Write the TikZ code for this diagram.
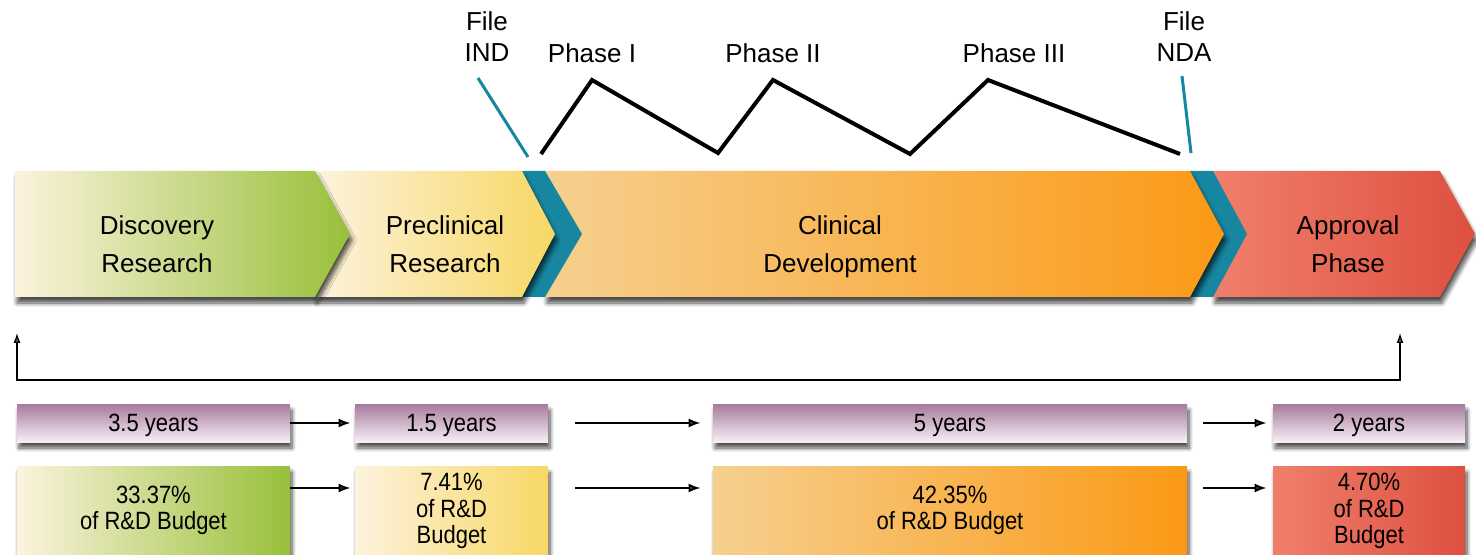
\documentclass[tikz,border=0pt]{standalone}
\usepackage{fontspec}
\setmainfont{Liberation Sans}
\newfontfamily\narrowfont[FakeStretch=0.88]{Liberation Sans}
\usetikzlibrary{shadows.blur,arrows.meta}
\definecolor{tealc}{HTML}{1786A0}
\definecolor{cream}{HTML}{FCF3DD}
\definecolor{greenR}{HTML}{98C03A}
\definecolor{yelR}{HTML}{F8D764}
\definecolor{orL}{HTML}{F6D08F}
\definecolor{orR}{HTML}{FB9915}
\definecolor{redL}{HTML}{F07F6C}
\definecolor{redR}{HTML}{DE5040}
\definecolor{purpT}{HTML}{A67A9E}
\definecolor{purpB}{HTML}{F8EFF6}
\begin{document}
\begin{tikzpicture}[x=0.5pt,y=-0.5pt,
  shad/.style={blur shadow={shadow xshift=1pt,shadow yshift=-3pt,shadow blur steps=8,shadow opacity=70}},
  bannertxt/.style={font=\fontsize{13}{19}\selectfont,align=center,inner sep=0pt},
  toptxt/.style={font=\fontsize{13}{15.5}\selectfont,align=center,inner sep=0pt},
  yrbox/.style={shad,minimum height=19pt,inner sep=0pt,text depth=0pt,top color=purpT,bottom color=purpB,font=\narrowfont\fontsize{12.5}{13}\selectfont},
  bdbox/.style={shad,minimum height=44.5pt,inner sep=0pt,align=center,font=\narrowfont\fontsize{12.5}{13.3}\selectfont},
  arr/.style={line width=1pt,-{Latex[length=6pt,width=4.5pt]}},
  zig/.style={line width=2pt,line join=miter},
  tline/.style={line width=1.5pt,draw=tealc}]
\useasboundingbox (0,0) rectangle (1476,555);
% banner shapes (right to left so tips overlap)
\path[shad,left color=redL,right color=redR] (1213,171) -- (1440,171) -- (1475,234) -- (1440,297) -- (1213,297) -- cycle;
\path[fill=tealc] (1190,171) -- (1213,171) -- (1247,234) -- (1213,297) -- (1190,297) -- cycle;
\path[shad,left color=orL,middle color=orL!85!orR,right color=orR] (545,171) -- (1190,171) -- (1224,234) -- (1190,297) -- (545,297) -- cycle;
\path[fill=tealc] (522,171) -- (545,171) -- (582,234) -- (545,297) -- (522,297) -- cycle;
\path[shad,left color=cream,right color=yelR] (315,171) -- (522,171) -- (555,234) -- (522,297) -- (315,297) -- cycle;
\path[shad,left color=cream,right color=greenR] (15,171) -- (315,171) -- (350,234) -- (315,297) -- (15,297) -- cycle;
% banner labels
\node[bannertxt] (disc) at (157,244) {Discovery\\Research};
\node[bannertxt] (prec) at (445,244) {Preclinical\\Research};
\node[bannertxt] (clin) at (840,247) {Clinical\\Development};
\node[bannertxt] (appr) at (1348,244) {Approval\\Phase};
% top labels
\node[toptxt] (ind) at (487,37) {File\\IND};
\node[toptxt] (p1) at (592,53) {Phase I};
\node[toptxt] (p2) at (773,53) {Phase II};
\node[toptxt] (p3) at (1014,53) {Phase III};
\node[toptxt] (nda) at (1184,37) {File\\NDA};
\draw[tline] (478,78) -- (528,157);
\draw[tline] (1182,76) -- (1191,153);
\draw[zig] (541,154) -- (592,80) -- (718,153) -- (773,80) -- (910,154) -- (988,80) -- (1180,154);
% return arrow
\coordinate (rl) at (17,380);
\coordinate (rr) at (1400,380);
\coordinate (rlt) at (17,333);
\coordinate (rrt) at (1400,333);
\draw[line width=0.6pt,{Latex[length=5pt,width=3.5pt]}-{Latex[length=5pt,width=3.5pt]}] (rlt) -- (rl) -- (rr) -- (rrt);
% years row
\node[yrbox,minimum width=136.5pt] (y1) at (153.5,423) {3.5 years};
\node[yrbox,minimum width=96.5pt] (y2) at (451.5,423) {1.5 years};
\node[yrbox,minimum width=237pt] (y3) at (950,423) {5 years};
\node[yrbox,minimum width=96pt] (y4) at (1369,423) {2 years};
% budget row
\node[bdbox,minimum width=136.5pt,left color=cream,right color=greenR] (b1) at (153.5,510.5) {33.37\%\\of R\&D Budget};
\node[bdbox,minimum width=96.5pt,left color=cream,right color=yelR] (b2) at (451.5,511) {7.41\%\\of R\&D\\Budget};
\node[bdbox,minimum width=237pt,left color=orL,middle color=orL!85!orR,right color=orR] (b3) at (950,510.5) {42.35\%\\of R\&D Budget};
\node[bdbox,minimum width=96pt,left color=redL,right color=redR] (b4) at (1369,511) {4.70\%\\of R\&D\\Budget};
% arrows
\coordinate (m1) at (575,423);
\coordinate (m2) at (575,488);
\draw[arr,shorten >=2pt] (y1.east) -- (y2.west);
\draw[arr,shorten >=6pt] (m1) -- (y3.west);
\draw[arr,shorten >=3pt,shorten <=8pt] (y3.east) -- (y4.west);
\draw[arr,shorten >=2pt] (b1.east |- m2) -- (b2.west |- m2);
\draw[arr,shorten >=6pt] (m2) -- (b3.west |- m2);
\draw[arr,shorten >=3pt,shorten <=8pt] (b3.east |- m2) -- (b4.west |- m2);
\end{tikzpicture}
\end{document}
